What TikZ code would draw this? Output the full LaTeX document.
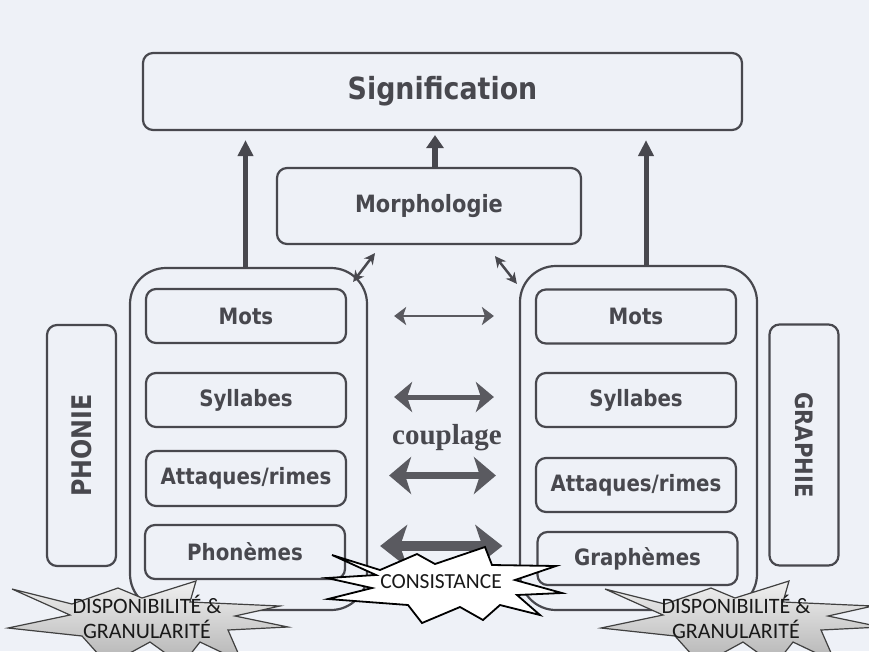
\documentclass[tikz,border=0pt]{standalone}
\usepackage{fontspec}
\setmainfont{DejaVu Sans}[FakeStretch=0.88]
\newfontfamily\calfont{Carlito}
\newfontfamily\serfont{Liberation Serif}
\usepackage{tikz}
\usetikzlibrary{arrows.meta,calc,positioning}
\definecolor{ink}{RGB}{72,72,78}
\definecolor{paper}{RGB}{238,241,247}

\begin{document}
\begin{tikzpicture}[x=1pt,y=-1pt,
  box/.style={draw=ink,line width=2.2pt,rounded corners=10pt,text=ink,inner sep=0pt,
    font=\bfseries\fontsize{22.5}{26}\selectfont},
  level/.style={box,minimum width=200pt,minimum height=54pt},
  column/.style={draw=ink,line width=2.2pt,rounded corners=36pt,minimum width=237pt},
  side/.style={box,minimum width=241pt,minimum height=69pt},
  up/.style={draw=ink,line width=5pt,-{Triangle[length=16pt,width=15pt]}},
  link/.style={draw=ink,line width=2.5pt,{Stealth[length=11pt,width=11pt]}-{Stealth[length=11pt,width=11pt]}},
  pair/.style n args={4}{draw=ink!90,line width=#1,
    {Stealth[length=#2,width=#3,inset=#4]}-{Stealth[length=#2,width=#3,inset=#4]}},
  burst/.style={text=black!90,font=\calfont\fontsize{22}{25}\selectfont,align=center,inner sep=0pt},
  granu/.pic={\draw[draw=black!75,line width=1.2pt,top color=gray!12,bottom color=gray!60]
    (-136,-21) -- (-76,-6) -- (-30,-22) -- (-6,-12) -- (48,-29) -- (42,-8) -- (132,-4)
    -- (87,6) -- (140,17) -- (80,20) -- (94,52) -- (52,32) -- (34,55) -- (2,32)
    -- (-40,55) -- (-66,26) -- (-140,18) -- (-78,5) -- cycle;}
]
\fill[paper] (0,0) rectangle (869,651);
\useasboundingbox (0,0) rectangle (869,651);
\clip (0,0) rectangle (869,651);

\node[box,minimum width=599pt,minimum height=77pt,font=\bfseries\fontsize{30.5}{34}\selectfont] (sign) at (442.5,91.5) {Signification};
\node[box,minimum width=304pt,minimum height=76pt,font=\bfseries\fontsize{23.8}{27}\selectfont] (morph) at (429,206) {Morphologie};

\node[column,minimum height=342pt] (colL) at (248.5,439) {};
\node[column,minimum height=344pt] (colR) at (638.5,438) {};

\node[level] (motsL) at (246,316) {Mots};
\node[level] (syllL) at (246,400) {Syllabes};
\node[level,minimum height=55pt] (attL) at (246,478.5) {Attaques/rimes};
\node[level] (phonL) at (245,552) {Phonèmes};
\node[level] (motsR) at (636,316.5) {Mots};
\node[level] (syllR) at (636,400) {Syllabes};
\node[level] (attR) at (636,485) {Attaques/rimes};
\node[level,minimum height=53pt] (graphR) at (637.5,558.5) {Graphèmes};

\node[side,rotate=90,font=\bfseries\fontsize{27}{30}\selectfont] (phonie) at (81.5,445.5) {PHONIE};
\node[side,rotate=-90,font=\bfseries\fontsize{24}{27}\selectfont] (graphie) at (804,445) {GRAPHIE};

\draw[up] ($(colL.north)+(-3,0)$) -- ($(colL.north |- sign.south)+(-3,9)$);
\draw[up] ($(colR.north)+(7.5,0)$) -- ($(colR.north |- sign.south)+(7.5,9)$);
\draw[draw=ink,line width=6pt,-{Triangle[length=13pt,width=17pt]}] ($(morph.north)+(6,0)$) -- ($(morph.north |- sign.south)+(6,4)$);
\draw[link] ($(colL.north east)+(-15,15)$) -- ($(morph.south)+(-54,8)$);
\draw[link] ($(morph.south)+(66,11)$) -- ($(colR.north west)+(-2,19)$);

\draw[pair={2.5pt}{12pt}{18pt}{3pt},shorten <=47pt,shorten >=41pt] (motsL.east) -- (motsL.east -| motsR.west);
\draw[pair={5pt}{18pt}{30pt}{5pt},shorten <=47pt,shorten >=41pt] ($(syllL.east)+(0,-3)$) -- ($(syllL.east -| syllR.west)+(0,-3)$);
\node[text=ink,font=\serfont\bfseries\fontsize{29}{32}\selectfont] (coupl) at (447,438) {couplage};
\draw[pair={7pt}{22pt}{37pt}{6pt},shorten <=42pt,shorten >=39pt] ($(attL.east)+(0,-3)$) -- ($(attL.east -| attR.west)+(0,-3)$);
\draw[pair={10pt}{27pt}{42pt}{7pt},shorten <=34pt,shorten >=34pt] ($(phonL.east)+(0,-6)$) -- ($(phonL.east -| graphR.west)+(0,-6)$);

\pic at (148,610) {granu};
\node[burst] (dispL) at (147,617) {DISPONIBILITÉ \&\\GRANULARITÉ};
\pic at (741,610) {granu};
\node[burst] (dispR) at (736,617) {DISPONIBILITÉ \&\\GRANULARITÉ};

\draw[shift={(440,583)},draw=black,line width=1.8pt,fill=white]
  (-108,-28) -- (-60,-13) -- (-23,-29) -- (-5,-19) -- (45,-36) -- (52,-18) -- (116,-17)
  -- (75,-3) -- (122,10) -- (77,12) -- (100,32) -- (60,22) -- (43,37) -- (20,24)
  -- (-18,40) -- (-32,22) -- (-112,16) -- (-68,5) -- (-113,-5) -- (-64,-8) -- cycle;
\node[burst,font=\calfont\fontsize{21.5}{24}\selectfont] (consist) at (441,582) {CONSISTANCE};
\end{tikzpicture}
\end{document}
